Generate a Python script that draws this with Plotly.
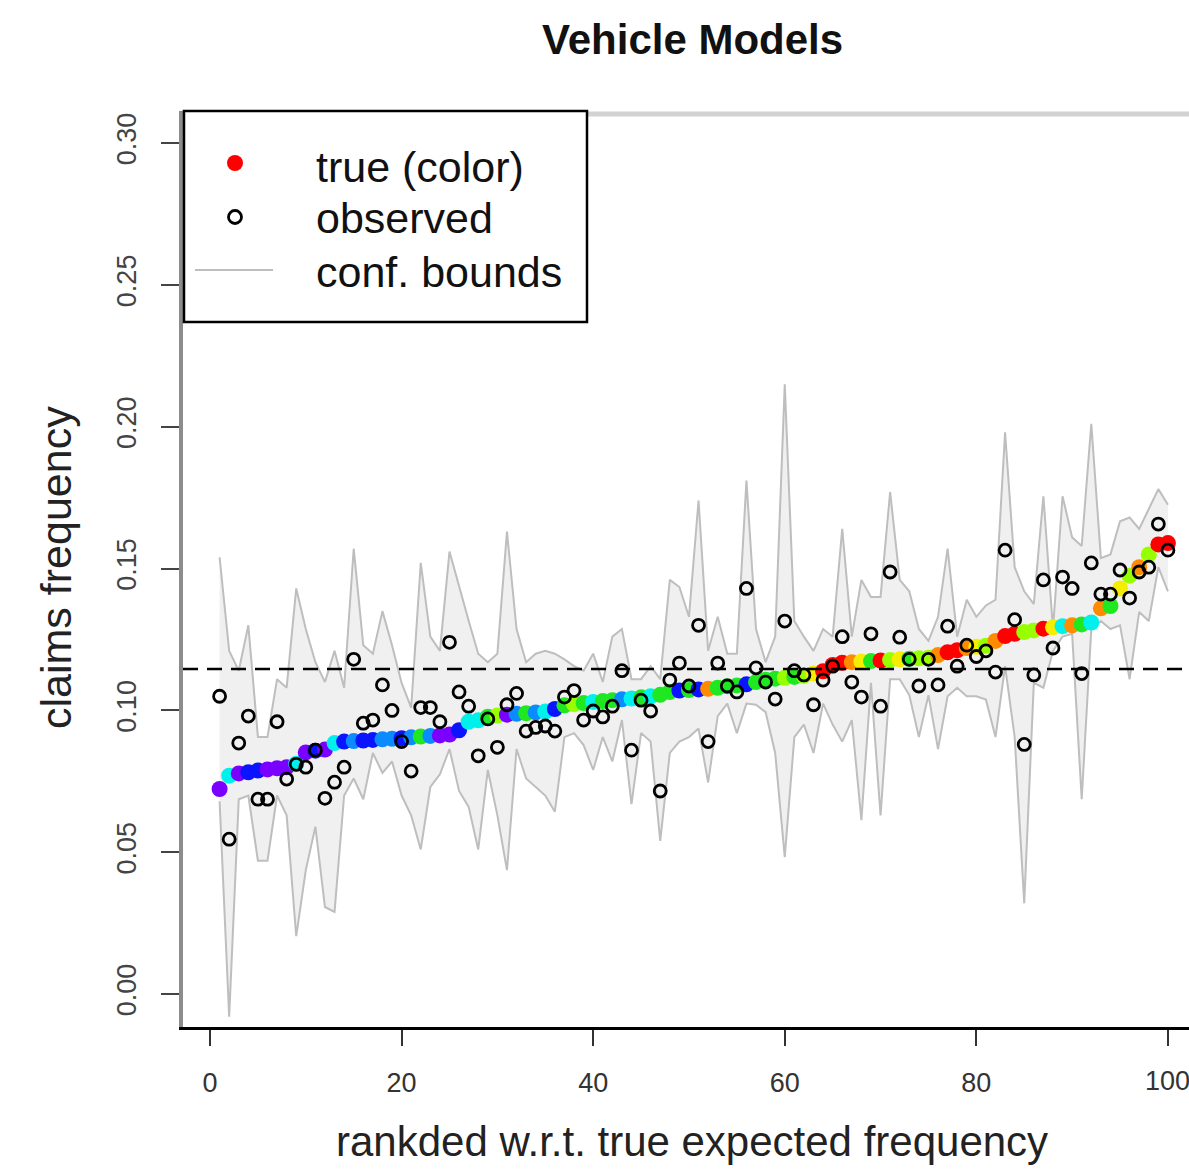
import plotly.graph_objects as go

# ---------------- data ----------------
rank = list(range(1, 101))

true_freq = [
    0.0723, 0.0770, 0.0778, 0.0782, 0.0788, 0.0792, 0.0796, 0.0800, 0.0812, 0.0852,
    0.0858, 0.0862, 0.0885, 0.0890, 0.0892, 0.0894, 0.0896, 0.0898, 0.0900, 0.0902,
    0.0905, 0.0908, 0.0910, 0.0912, 0.0915, 0.0930, 0.0960, 0.0965, 0.0978, 0.0982,
    0.0985, 0.0988, 0.0990, 0.0993, 0.0996, 0.1005, 0.1018, 0.1022, 0.1026, 0.1030,
    0.1033, 0.1036, 0.1039, 0.1042, 0.1046, 0.1050, 0.1055, 0.1065, 0.1070, 0.1072,
    0.1074, 0.1076, 0.1080, 0.1085, 0.1088, 0.1092, 0.1100, 0.1108, 0.1112, 0.1115,
    0.1118, 0.1122, 0.1130, 0.1138, 0.1160, 0.1168, 0.1170, 0.1172, 0.1174, 0.1176,
    0.1178, 0.1180, 0.1182, 0.1184, 0.1186, 0.1195, 0.1205, 0.1212, 0.1220, 0.1224,
    0.1228, 0.1245, 0.1262, 0.1270, 0.1276, 0.1282, 0.1288, 0.1293, 0.1297, 0.1300,
    0.1303, 0.1310, 0.1360, 0.1368, 0.1430, 0.1475, 0.1505, 0.1550, 0.1585, 0.1590,
]

observed_freq = [
    0.105, 0.0546, 0.0885, 0.098, 0.0687, 0.0687, 0.096, 0.0758, 0.081, 0.080,
    0.086, 0.069, 0.0747, 0.080, 0.118, 0.0955, 0.0966, 0.109, 0.100, 0.089,
    0.0786, 0.101, 0.101, 0.096, 0.124, 0.1065, 0.1015, 0.084, 0.097, 0.087,
    0.102, 0.106, 0.0927, 0.094, 0.0945, 0.0927, 0.1047, 0.107, 0.0966, 0.0998,
    0.0977, 0.1015, 0.114, 0.086, 0.1036, 0.0998, 0.0716, 0.1107, 0.1167, 0.1086,
    0.130, 0.089, 0.1167, 0.1086, 0.1065, 0.143, 0.115, 0.110, 0.104, 0.1315,
    0.114, 0.1125, 0.102, 0.1107, 0.1156, 0.126, 0.110, 0.1047, 0.127, 0.1015,
    0.1488, 0.1258, 0.118, 0.1086, 0.118, 0.109, 0.1297, 0.1156, 0.123, 0.119,
    0.121, 0.1135, 0.1565, 0.132, 0.088, 0.1125, 0.146, 0.122, 0.147, 0.143,
    0.113, 0.152, 0.141, 0.141, 0.1495, 0.1396, 0.1488, 0.1505, 0.1657, 0.1565,
]

upper_bound = [
    0.154, 0.121, 0.114, 0.130, 0.0906, 0.0906, 0.111, 0.108, 0.143, 0.1287,
    0.117, 0.110, 0.121, 0.108, 0.157, 0.123, 0.120, 0.135, 0.123, 0.1097,
    0.101, 0.152, 0.126, 0.121, 0.156, 0.1435, 0.1316, 0.120, 0.117, 0.120,
    0.163, 0.1287, 0.117, 0.120, 0.121, 0.120, 0.118, 0.1156, 0.114, 0.120,
    0.110, 0.126, 0.1287, 0.111, 0.111, 0.1156, 0.111, 0.146, 0.1435, 0.133,
    0.174, 0.121, 0.133, 0.120, 0.120, 0.181, 0.1287, 0.117, 0.126, 0.215,
    0.1315, 0.126, 0.121, 0.1287, 0.126, 0.164, 0.126, 0.146, 0.140, 0.140,
    0.177, 0.146, 0.142, 0.1287, 0.1245, 0.133, 0.157, 0.126, 0.139, 0.133,
    0.137, 0.139, 0.198, 0.1505, 0.142, 0.1375, 0.1755, 0.1287, 0.1755, 0.161,
    0.158, 0.201, 0.1537, 0.155, 0.1667, 0.168, 0.164, 0.171, 0.178, 0.1725,
]

lower_bound = [
    0.068, -0.008, 0.0687, 0.070, 0.047, 0.047, 0.070, 0.063, 0.0204, 0.0437,
    0.059, 0.0307, 0.029, 0.070, 0.076, 0.0687, 0.085, 0.078, 0.082, 0.070,
    0.063, 0.051, 0.073, 0.0775, 0.0864, 0.0716, 0.066, 0.051, 0.079, 0.063,
    0.0437, 0.0864, 0.076, 0.073, 0.070, 0.0643, 0.0906, 0.092, 0.0878, 0.079,
    0.0906, 0.082, 0.0966, 0.067, 0.092, 0.089, 0.054, 0.085, 0.089, 0.0906,
    0.0936, 0.0746, 0.098, 0.1024, 0.092, 0.1024, 0.102, 0.0994, 0.085, 0.0483,
    0.0906, 0.095, 0.085, 0.1024, 0.095, 0.089, 0.0966, 0.0613, 0.1097, 0.063,
    0.111, 0.111, 0.1054, 0.0906, 0.1054, 0.0864, 0.105, 0.108, 0.105, 0.105,
    0.1038, 0.0906, 0.1156, 0.0906, 0.032, 0.1097, 0.108, 0.121, 0.126, 0.127,
    0.0687, 0.1287, 0.1315, 0.1287, 0.130, 0.111, 0.1347, 0.1315, 0.1505, 0.142,
]

# colour class of each model (rainbow palette codes)
color_class = [
    "V", "C", "V", "B", "B", "V", "V", "V", "C", "V",
    "B", "V", "C", "B", "A", "B", "B", "A", "A", "B",
    "A", "G", "A", "V", "V", "B", "C", "C", "G", "YG",
    "V", "A", "G", "A", "C", "B", "G", "YG", "G", "C",
    "G", "G", "A", "C", "G", "C", "G", "G", "B", "G",
    "B", "O", "G", "G", "G", "B", "G", "G", "G", "YG",
    "G", "YG", "Y", "R", "R", "R", "O", "Y", "G", "R",
    "YG", "Y", "G", "YG", "YG", "O", "R", "R", "O", "Y",
    "YG", "O", "R", "R", "YG", "YG", "R", "Y", "C", "O",
    "G", "C", "O", "G", "Y", "YG", "O", "YG", "R", "R",
]

avg_freq = 0.1146

x_ticks = [0, 20, 40, 60, 80, 100]
x_tick_labels = ["0", "20", "40", "60", "80", "100"]
y_ticks = [0.00, 0.05, 0.10, 0.15, 0.20, 0.25, 0.30]
y_tick_labels = ["0.00", "0.05", "0.10", "0.15", "0.20", "0.25", "0.30"]

legend_labels = ["true (color)", "observed", "conf. bounds"]

# ---------------- styling ----------------
palette = {
    "R": "#FF0000", "O": "#FF8C00", "Y": "#F5EE00", "YG": "#98FF00",
    "G": "#20E820", "C": "#00F0EC", "A": "#0A8CFF", "B": "#0A14FF", "V": "#7A00FF",
}
FONT = "Liberation Sans, Arial, sans-serif"
W, H = 1189, 1169
L, T, R, B = 183, 111, 0, 142
PW, PH = W - L - R, H - T - B


def px(xp):
    return (xp - L) / PW


def py(yp):
    return (H - B - yp) / PH


fig = go.Figure()

# confidence band fill
fig.add_trace(go.Scatter(
    x=rank + rank[::-1], y=upper_bound + lower_bound[::-1],
    fill="toself", fillcolor="#F0F0F0", line=dict(width=0),
    mode="lines", hoverinfo="skip", showlegend=False))
for bnd in (upper_bound, lower_bound):
    fig.add_trace(go.Scatter(
        x=rank, y=bnd, mode="lines",
        line=dict(color="#BEBEBE", width=2), showlegend=False))

# true frequencies
fig.add_trace(go.Scatter(
    x=rank, y=true_freq, mode="markers",
    marker=dict(size=16, color=[palette[c] for c in color_class], line=dict(width=0)),
    showlegend=False))

# observed
fig.add_trace(go.Scatter(
    x=rank, y=observed_freq, mode="markers",
    marker=dict(symbol="circle-open", size=12, color="black", line=dict(width=2.8)),
    showlegend=False))

shapes = []
# dashed average line
shapes.append(dict(type="line", xref="paper", yref="y", x0=0, x1=1,
                   y0=avg_freq, y1=avg_freq,
                   line=dict(color="black", width=2.5, dash="15px,9px"), layer="above"))
# frame: top border (light)
shapes.append(dict(type="line", xref="paper", yref="paper", x0=px(587), x1=1.0,
                   y0=py(114), y1=py(114), line=dict(color="#D2D2D2", width=5)))
# legend box
shapes.append(dict(type="rect", xref="paper", yref="paper",
                   x0=px(184), x1=px(587), y0=py(322), y1=py(111),
                   fillcolor="white", line=dict(color="black", width=2.5), layer="above"))
# legend symbols
shapes.append(dict(type="circle", xref="paper", yref="paper",
                   x0=px(227), x1=px(243), y0=py(171), y1=py(155),
                   fillcolor="#FF0000", line=dict(width=0), layer="above"))
shapes.append(dict(type="circle", xref="paper", yref="paper",
                   x0=px(228.5), x1=px(241.5), y0=py(223.5), y1=py(210.5),
                   fillcolor="rgba(0,0,0,0)", line=dict(color="black", width=2.8), layer="above"))
shapes.append(dict(type="line", xref="paper", yref="paper",
                   x0=px(195), x1=px(273), y0=py(270), y1=py(270),
                   line=dict(color="#BEBEBE", width=2), layer="above"))

annotations = []
for lab, yy in zip(legend_labels, (167, 218, 272)):
    annotations.append(dict(text=lab, xref="paper", yref="paper", x=px(314), y=py(yy),
                            xanchor="left", yanchor="middle", showarrow=False,
                            font=dict(family=FONT, size=43, color="#111")))
# "100" tick label (at the right edge, as in the original)
annotations.append(dict(text=x_tick_labels[-1], xref="x", yref="paper", x=x_ticks[-1], y=py(1081),
                        xanchor="center", yanchor="middle", showarrow=False,
                        font=dict(family=FONT, size=27, color="#333")))
# axis titles
annotations.append(dict(text="rankded w.r.t. true expected frequency", xref="paper", yref="paper",
                        x=px(692), y=py(1141), xanchor="center", yanchor="middle", showarrow=False,
                        font=dict(family=FONT, size=42, color="#222")))
annotations.append(dict(text="claims frequency", xref="paper", yref="paper",
                        x=px(56), y=py(568), xanchor="center", yanchor="middle", showarrow=False,
                        textangle=-90, font=dict(family=FONT, size=43, color="#222")))
# title
annotations.append(dict(text="<b>Vehicle Models</b>", xref="paper", yref="paper",
                        x=px(692), y=py(39), xanchor="center", yanchor="middle", showarrow=False,
                        font=dict(family=FONT, size=42, color="#111")))

fig.update_layout(
    width=W, height=H,
    margin=dict(l=L, r=R, t=T, b=B, pad=0),
    paper_bgcolor="white", plot_bgcolor="white",
    showlegend=False,
    shapes=shapes, annotations=annotations,
    xaxis=dict(range=[-2.82, 102.2], tickvals=x_ticks, ticktext=x_tick_labels,
               ticks="outside", ticklen=16,
               tickwidth=2, tickcolor="#333", showgrid=False, zeroline=False,
               showline=True, linecolor="black", linewidth=3,
               tickfont=dict(family=FONT, size=27, color="#333"), ticklabelstandoff=14),
    yaxis=dict(range=[-0.0116, 0.3113], tickvals=y_ticks, ticktext=y_tick_labels,
               tickangle=-90, ticks="outside", ticklen=18, tickwidth=2, tickcolor="#444",
               showgrid=False, zeroline=False, showline=True, linecolor="#8C8C8C", linewidth=4,
               tickfont=dict(family=FONT, size=27, color="#444"), ticklabelstandoff=14),
)

fig.write_html("out.html")
